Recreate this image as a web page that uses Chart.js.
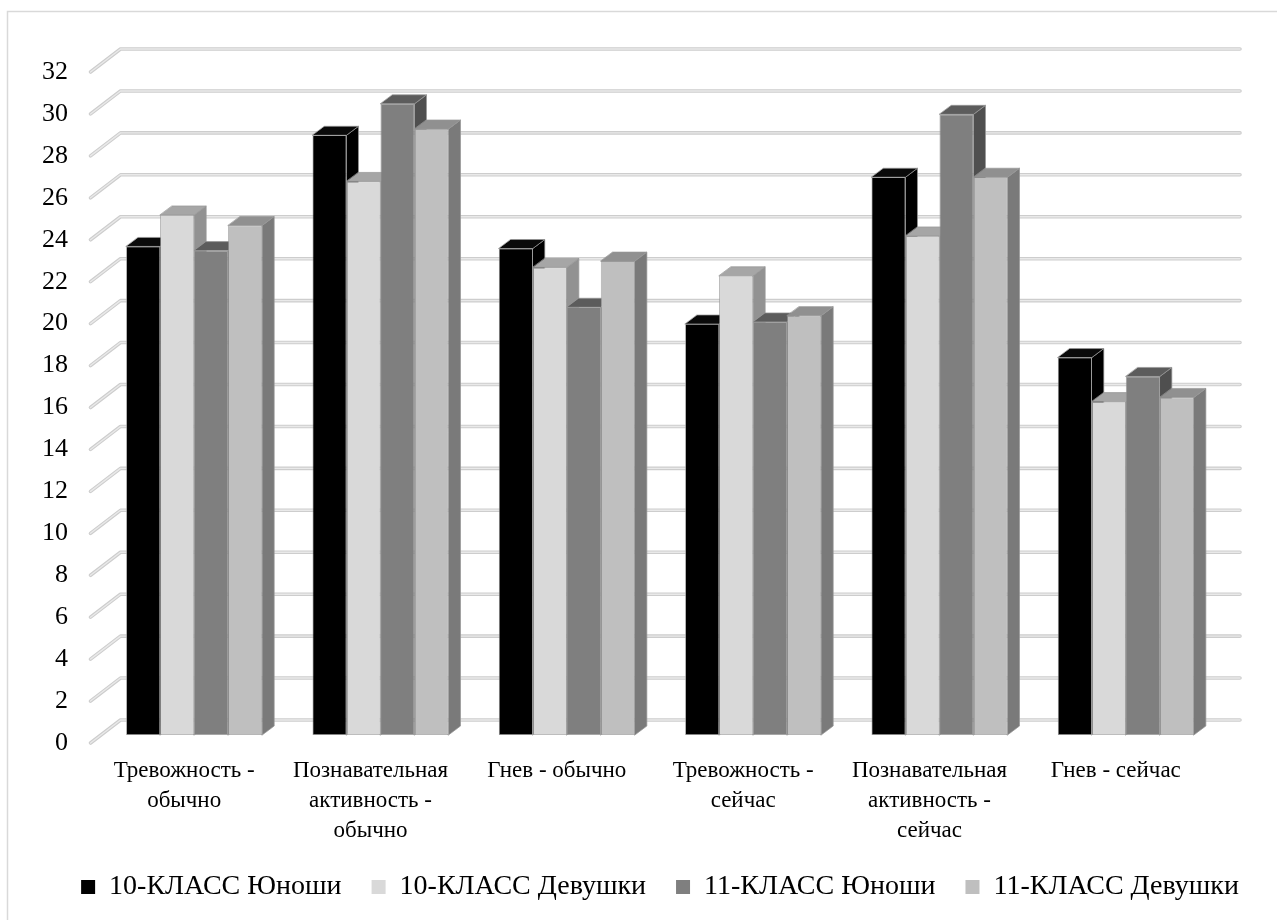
<!DOCTYPE html>
<html>
<head>
<meta charset="utf-8">
<script src="https://cdn.jsdelivr.net/npm/chart.js@4/dist/chart.umd.min.js"></script>
<style>
  html, body { margin: 0; padding: 0; background: #ffffff; }
  #wrap { width: 1277px; height: 920px; position: relative; }
</style>
</head>
<body>
<div id="wrap"><canvas id="chart"></canvas></div>
<script>
// Categories (multi-line labels as wrapped under the axis)
const categories = [
  ['Тревожность -', 'обычно'],
  ['Познавательная', 'активность -', 'обычно'],
  ['Гнев - обычно'],
  ['Тревожность -', 'сейчас'],
  ['Познавательная', 'активность -', 'сейчас'],
  ['Гнев - сейчас']
];

const seriesNames = ['10-КЛАСС Юноши', '10-КЛАСС Девушки', '11-КЛАСС Юноши', '11-КЛАСС Девушки'];

const boys10  = [23.3, 28.6, 23.2, 19.6, 26.6, 18.0];
const girls10 = [24.8, 26.4, 22.3, 21.9, 23.8, 15.9];
const boys11  = [23.1, 30.1, 20.4, 19.7, 29.6, 17.1];
const girls11 = [24.3, 28.9, 22.6, 20.0, 26.6, 16.1];

const yMin = 0, yMax = 32, yStep = 2;

// Face colours per series: front, top, right side
const frontColors = ['#000000', '#d9d9d9', '#7f7f7f', '#bfbfbf'];
const topColors   = ['#0a0a0a', '#a6a6a6', '#5c5c5c', '#909090'];
const sideColors  = ['#000000', '#929292', '#4f4f4f', '#7a7a7a'];

const FONT = '"Liberation Serif", "Times New Roman", serif';

// Depth offsets relative to the plane of the bar fronts
const DEPTH = {
  front: { dx: -10.5, dy: 8 },   // front edge of the side wall
  back:  { dx: 19.5, dy: -15 },  // back wall
  bar:   { dx: 12, dy: -9 }      // depth of a single bar
};

// Horizontal shift of the legend so it is centred under the plot
const LEGEND_SHIFT = 50.5;

const depthPlugin = {
  id: 'depth3d',
  afterLayout(chart) {
    const lg = chart.legend;
    if (lg) { lg.left += LEGEND_SHIFT; lg.right += LEGEND_SHIFT; }
  },
  beforeDraw(chart) {
    const ctx = chart.ctx;
    ctx.save();
    ctx.strokeStyle = '#d9d9d9';
    ctx.lineWidth = 1.5;
    ctx.strokeRect(7.5, 11.5, 1400, 1100);
    ctx.restore();
  },
  beforeDatasetsDraw(chart) {
    const ctx = chart.ctx;
    const area = chart.chartArea;
    const ys = chart.scales.y;
    ctx.save();
    // gridlines on side wall and back wall
    ys.ticks.forEach(t => {
      const py = ys.getPixelForValue(t.value);
      const path = () => {
        ctx.beginPath();
        ctx.moveTo(area.left + DEPTH.front.dx, py + DEPTH.front.dy);
        ctx.lineTo(area.left + DEPTH.back.dx, py + DEPTH.back.dy);
        ctx.lineTo(area.right + DEPTH.back.dx + 1.5, py + DEPTH.back.dy);
      };
      ctx.lineJoin = 'round';
      ctx.lineCap = 'round';
      path(); ctx.strokeStyle = '#cdcdcd'; ctx.lineWidth = 3.6; ctx.stroke();
      path(); ctx.strokeStyle = '#e9e9e9'; ctx.lineWidth = 1.4; ctx.stroke();
    });
    // top and side faces of every bar, left to right within a group
    chart.data.datasets.forEach((ds, di) => {
      const meta = chart.getDatasetMeta(di);
      if (meta.hidden) return;
      meta.data.forEach(bar => {
        const p = bar.getProps(['x', 'y', 'base', 'width'], true);
        const l = p.x - p.width / 2, r = p.x + p.width / 2;
        const top = p.y, base = p.base;
        const dx = DEPTH.bar.dx, dy = DEPTH.bar.dy;
        ctx.lineWidth = 0.8;
        ctx.strokeStyle = 'rgba(150,150,150,0.9)';
        // side face
        ctx.beginPath();
        ctx.moveTo(r, top);
        ctx.lineTo(r + dx, top + dy);
        ctx.lineTo(r + dx, base + dy);
        ctx.lineTo(r, base);
        ctx.closePath();
        ctx.fillStyle = sideColors[di];
        ctx.fill();
        ctx.stroke();
        // top face
        ctx.beginPath();
        ctx.moveTo(l, top);
        ctx.lineTo(r, top);
        ctx.lineTo(r + dx, top + dy);
        ctx.lineTo(l + dx, top + dy);
        ctx.closePath();
        ctx.fillStyle = topColors[di];
        ctx.fill();
        ctx.stroke();
      });
    });
    ctx.restore();
  }
};

const seriesValues = [boys10, girls10, boys11, girls11];

const datasets = seriesValues.map((vals, i) => ({
  label: seriesNames[i],
  data: vals,
  backgroundColor: frontColors[i],
  borderColor: '#9a9a9a',
  borderWidth: 0.8,
  borderSkipped: false
}));

new Chart(document.getElementById('chart'), {
  type: 'bar',
  data: { labels: categories, datasets },
  plugins: [depthPlugin],
  options: {
    responsive: true,
    maintainAspectRatio: false,
    animation: false,
    devicePixelRatio: 1,
    layout: { padding: { top: 64, left: 0, right: 58, bottom: 9 } },
    datasets: { bar: { categoryPercentage: 0.73, barPercentage: 1.0 } },
    scales: {
      x: {
        grid: { display: false, drawTicks: false },
        border: { display: false },
        ticks: {
          font: { family: FONT, size: 23, lineHeight: 1.3 },
          color: '#000000',
          padding: 21,
          labelOffset: -10,
          maxRotation: 0,
          autoSkip: false
        },
        afterFit(s) { s.height = 108; }
      },
      y: {
        min: yMin,
        max: yMax,
        grid: { display: false, drawTicks: false },
        border: { display: false },
        ticks: {
          stepSize: yStep,
          font: { family: FONT, size: 26 },
          color: '#000000',
          padding: 33,
          labelOffset: 8
        },
        afterFit(s) { s.width = 101; }
      }
    },
    plugins: {
      tooltip: { enabled: false },
      title: { display: false },
      legend: {
        position: 'bottom',
        labels: {
          font: { family: FONT, size: 28 },
          color: '#000000',
          boxWidth: 14,
          boxHeight: 14,
          padding: 30,
          generateLabels(chart) {
            return Chart.defaults.plugins.legend.labels.generateLabels(chart).map(item => {
              item.lineWidth = 0;
              item.strokeStyle = 'rgba(0,0,0,0)';
              return item;
            });
          }
        }
      }
    }
  }
});
</script>
</body>
</html>
